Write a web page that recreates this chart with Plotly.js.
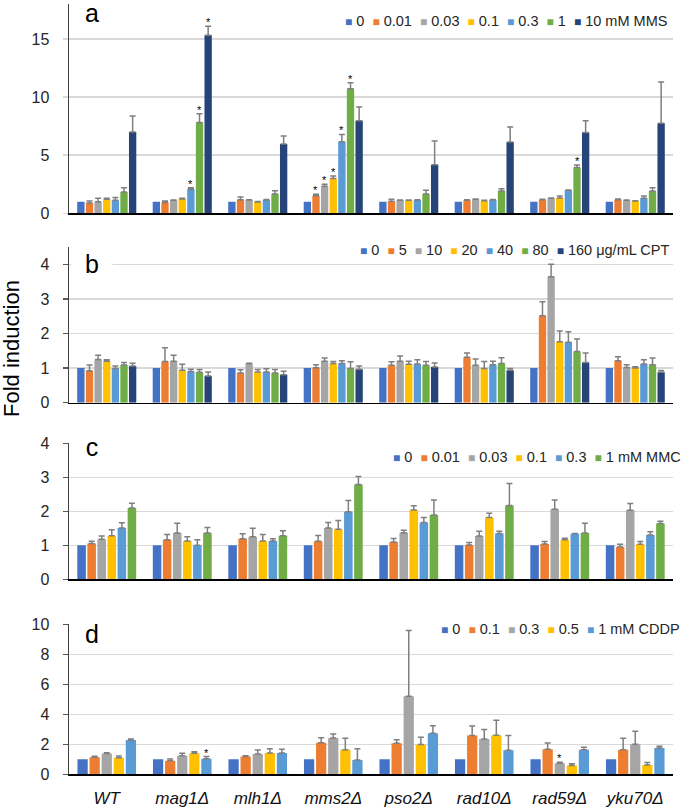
<!DOCTYPE html>
<html><head><meta charset="utf-8">
<script src="https://cdn.plot.ly/plotly-3.0.1.min.js"></script>
<style>html,body{margin:0;padding:0;background:#fff}</style>
</head><body><div id="chart" style="width:685px;height:807px"></div>
<script>
// ---------- DATA ----------
const strains = ['WT','mag1Δ','mlh1Δ','mms2Δ','pso2Δ','rad10Δ','rad59Δ','yku70Δ'];
const seriesColors = ['#4472C4','#ED7D31','#A5A5A5','#FFC000','#5B9BD5','#70AD47','#264478'];

// Panel a: MMS
const mmsLabels = ['0','0.01','0.03','0.1','0.3','1','10 mM MMS'];
const mms_0    = [1,1,1,1,1,1,1,1];
const mms_001  = [0.88,0.92,1.17,1.52,1.03,1.12,1.17,1.17];
const mms_003  = [1.0,1.12,1.15,2.32,1.12,1.2,1.29,1.12];
const mms_01   = [1.2,1.23,0.97,3.0,1.12,1.09,1.32,1.06];
const mms_03   = [1.13,2.06,1.15,6.16,1.12,1.15,1.98,1.29];
const mms_1    = [1.83,7.82,1.66,10.72,1.66,1.92,3.93,1.92];
const mms_10   = [6.99,15.33,5.96,7.97,4.18,6.13,6.96,7.74];
const mmsErr_001 = [0.18,0.13,0.23,0.12,0.17,0.05,0.04,0.06];
const mmsErr_003 = [0.3,0.03,0.02,0.17,0.03,0.03,0.03,0.02];
const mmsErr_01  = [0.1,0.07,0.05,0.2,0.03,0.03,0.17,0.03];
const mmsErr_03  = [0.22,0.14,0.03,0.63,0.05,0.03,0.03,0.2];
const mmsErr_1   = [0.37,0.75,0.29,0.51,0.32,0.2,0.22,0.28];
const mmsErr_10  = [1.38,0.77,0.69,1.17,2.04,1.29,1.01,3.56];
const mmsSig = [[1,4],[1,5],[1,6],[3,1],[3,2],[3,3],[3,4],[3,5],[6,5]]; // [strain, series]

// Panel b: CPT
const cptLabels = ['0','5','10','20','40','80','160 μg/mL CPT'];
const cpt_0   = [1,1,1,1,1,1,1,1];
const cpt_5   = [0.92,1.19,0.86,1.01,1.08,1.31,2.51,1.21];
const cpt_10  = [1.25,1.2,1.13,1.2,1.2,1.08,3.64,1.02];
const cpt_20  = [1.2,0.94,0.89,1.13,1.11,0.99,1.76,1.0];
const cpt_40  = [0.99,0.9,0.89,1.13,1.12,1.1,1.75,1.12];
const cpt_80  = [1.09,0.88,0.86,0.99,1.08,1.13,1.48,1.1];
const cpt_160 = [1.06,0.77,0.81,0.97,1.03,0.94,1.16,0.88];
const cptErr_5   = [0.17,0.4,0.09,0.09,0.1,0.13,0.41,0.12];
const cptErr_10  = [0.12,0.17,0.01,0.09,0.15,0.18,0.36,0.08];
const cptErr_20  = [0.04,0.17,0.07,0.06,0.09,0.2,0.31,0.04];
const cptErr_40  = [0.07,0.07,0.09,0.08,0.12,0.1,0.3,0.12];
const cptErr_80  = [0.07,0.08,0.1,0.19,0.11,0.17,0.36,0.19];
const cptErr_160 = [0.08,0.12,0.1,0.09,0.12,0.05,0.28,0.05];
const cptSig = [[6,2]];

// Panel c: MMC
const mmcLabels = ['0','0.01','0.03','0.1','0.3','1 mM MMC'];
const mmc_0   = [1,1,1,1,1,1,1,1];
const mmc_001 = [1.05,1.16,1.19,1.12,1.1,1.01,1.04,0.95];
const mmc_003 = [1.18,1.36,1.25,1.51,1.37,1.27,2.06,2.03];
const mmc_01  = [1.28,1.13,1.13,1.47,2.04,1.82,1.16,1.03];
const mmc_03  = [1.51,1.0,1.13,1.99,1.67,1.35,1.34,1.3];
const mmc_1   = [2.1,1.36,1.28,2.79,1.89,2.17,1.36,1.64];
const mmcErr_001 = [0.07,0.16,0.15,0.17,0.1,0.07,0.07,0.08];
const mmcErr_003 = [0.09,0.29,0.25,0.16,0.07,0.14,0.27,0.2];
const mmcErr_01  = [0.18,0.12,0.19,0.26,0.12,0.12,0.05,0.08];
const mmcErr_03  = [0.15,0.16,0.06,0.33,0.15,0.06,0.01,0.1];
const mmcErr_1   = [0.14,0.16,0.15,0.23,0.44,0.65,0.29,0.07];
const mmcSig = [];

// Panel d: CDDP
const cddpLabels = ['0','0.1','0.3','0.5','1 mM CDDP'];
const cddp_0  = [1,1,1,1,1,1,1,1];
const cddp_01 = [1.13,0.91,1.18,2.11,2.07,2.58,1.67,1.64];
const cddp_03 = [1.38,1.24,1.36,2.42,5.2,2.36,0.73,2.0];
const cddp_05 = [1.11,1.4,1.42,1.64,1.98,2.6,0.58,0.62];
const cddp_1  = [2.29,1.04,1.42,0.96,2.73,1.6,1.64,1.76];
const cddpErr_01 = [0.07,0.11,0.06,0.33,0.24,0.64,0.42,0.76];
const cddpErr_03 = [0.06,0.16,0.26,0.27,4.38,0.62,0.07,0.87];
const cddpErr_05 = [0.11,0.11,0.29,0.76,0.49,1.0,0.13,0.16];
const cddpErr_1  = [0.07,0.14,0.25,0.75,0.51,0.98,0.16,0.11];
const cddpSig = [[1,4],[6,2]];

// ---------- LAYOUT HELPERS ----------
const W = 685, H = 807;
const px = v => v / W;
const py = v => 1 - v / H;
const FONT = 'Liberation Sans, Arial, sans-serif';
const BARGAP = 0.2;

const panels = [
  {key:'a', labels:mmsLabels, vals:[mms_0,mms_001,mms_003,mms_01,mms_03,mms_1,mms_10],
   errs:[null,mmsErr_001,mmsErr_003,mmsErr_01,mmsErr_03,mmsErr_1,mmsErr_10], sig:mmsSig,
   y0:213.3, y1:4.1, range:[0,18], dtick:5, legX:345, legY:21.5, letterY:13.5},
  {key:'b', labels:cptLabels, vals:[cpt_0,cpt_5,cpt_10,cpt_20,cpt_40,cpt_80,cpt_160],
   errs:[null,cptErr_5,cptErr_10,cptErr_20,cptErr_40,cptErr_80,cptErr_160], sig:cptSig,
   y0:402.7, y1:247, range:[0,4.5], dtick:1, legX:360, legY:250.5, letterY:263.5},
  {key:'c', labels:mmcLabels, vals:[mmc_0,mmc_001,mmc_003,mmc_01,mmc_03,mmc_1],
   errs:[null,mmcErr_001,mmcErr_003,mmcErr_01,mmcErr_03,mmcErr_1], sig:mmcSig,
   y0:579.3, y1:443.3, range:[0,4], dtick:1, legX:393, legY:457, letterY:446.5},
  {key:'d', labels:cddpLabels, vals:[cddp_0,cddp_01,cddp_03,cddp_05,cddp_1],
   errs:[null,cddpErr_01,cddpErr_03,cddpErr_05,cddpErr_1], sig:cddpSig,
   y0:774.3, y1:624.3, range:[0,10], dtick:2, legX:441, legY:629, letterY:633.5}
];

const traces = [];
const annotations = [];
const layout = {
  width: W, height: H,
  margin: {l:0, r:0, t:0, b:0},
  paper_bgcolor: '#fff', plot_bgcolor: '#fff',
  barmode: 'group', bargap: BARGAP, bargroupgap: 0.15,
  showlegend: false,
  font: {family: FONT, color: '#262626'},
  annotations: annotations
};

panels.forEach((p, k) => {
  const xa = k === 0 ? 'x' : 'x' + (k + 1);
  const ya = k === 0 ? 'y' : 'y' + (k + 1);
  const xName = k === 0 ? 'xaxis' : 'xaxis' + (k + 1);
  const yName = k === 0 ? 'yaxis' : 'yaxis' + (k + 1);
  const n = p.vals.length;
  p.vals.forEach((v, i) => {
    const t = {
      type: 'bar', x: strains, y: v, name: p.labels[i],
      xaxis: xa, yaxis: ya,
      marker: {color: seriesColors[i]},
      hoverinfo: 'skip'
    };
    if (p.errs[i]) {
      t.error_y = {type:'data', symmetric:false, array:p.errs[i], arrayminus:p.errs[i].map(()=>0),
                   color:'#7f7f7f', thickness:1.5, width:3};
    }
    traces.push(t);
  });
  layout[xName] = {
    domain: [px(69), px(673)], anchor: ya,
    type: 'category', categoryorder: 'array', categoryarray: strains,
    showline: true, linecolor: '#000', linewidth: 1.5,
    ticks: '', showgrid: false, zeroline: false,
    showticklabels: k === 3,
    tickfont: {family: FONT, size: 17, color: '#111', style: 'italic'},
    ticklabelstandoff: 8
  };
  layout[yName] = {
    domain: [py(p.y0), py(p.y1)], anchor: xa,
    range: p.range, dtick: p.dtick, tick0: 0,
    showline: true, linecolor: '#404040', linewidth: 1.5,
    ticks: 'outside', ticklen: 5, tickcolor: k === 0 ? '#d9d9d9' : '#595959', tickwidth: 1.5,
    showgrid: true, gridcolor: '#d9d9d9', gridwidth: 1.5, zeroline: false,
    tickfont: {family: FONT, size: 16, color: '#262626'},
    ticklabelstandoff: 10
  };
  // significance asterisks placed above error bars
  p.sig.forEach(([g, i]) => {
    const slot = (1 - BARGAP) / n;
    annotations.push({
      xref: xa, yref: ya,
      x: g - (1 - BARGAP) / 2 + (i + 0.5) * slot,
      y: p.vals[i][g] + (p.errs[i] ? p.errs[i][g] : 0),
      text: '*', showarrow: false, yanchor: 'bottom', yshift: -1, height: 7,
      font: {family: FONT, size: 11, color: '#000'}
    });
  });
  // legend as a compact row
  const legendText = p.labels.map((l, i) =>
    `<span style="color:${seriesColors[i]};font-size:12px">■</span>\u00A0${l}`).join('\u00A0\u00A0');
  annotations.push({
    xref: 'paper', yref: 'paper', x: px(p.legX - 2), y: py(p.legY),
    xanchor: 'left', yanchor: 'middle', showarrow: false,
    text: legendText, bgcolor: '#fff', borderpad: 1,
    font: {family: FONT, size: 14.5, color: '#262626'}
  });
  // panel letter
  annotations.push({
    xref: 'paper', yref: 'paper', x: px(71), y: py(p.letterY),
    xanchor: 'left', yanchor: 'middle', showarrow: false,
    text: p.key, width: 40, height: 24, align: 'center', valign: 'middle',
    bgcolor: k === 0 ? 'rgba(0,0,0,0)' : '#fff', borderpad: 0,
    font: {family: FONT, size: 25, color: '#000'}
  });
});

annotations.push({
  xref: 'paper', yref: 'paper', x: px(11), y: py(349),
  xanchor: 'center', yanchor: 'middle', showarrow: false, textangle: -90,
  text: 'Fold induction', font: {family: FONT, size: 22, color: '#000'}
});

Plotly.newPlot('chart', traces, layout, {staticPlot: true, displayModeBar: false});
</script>
</body></html>
